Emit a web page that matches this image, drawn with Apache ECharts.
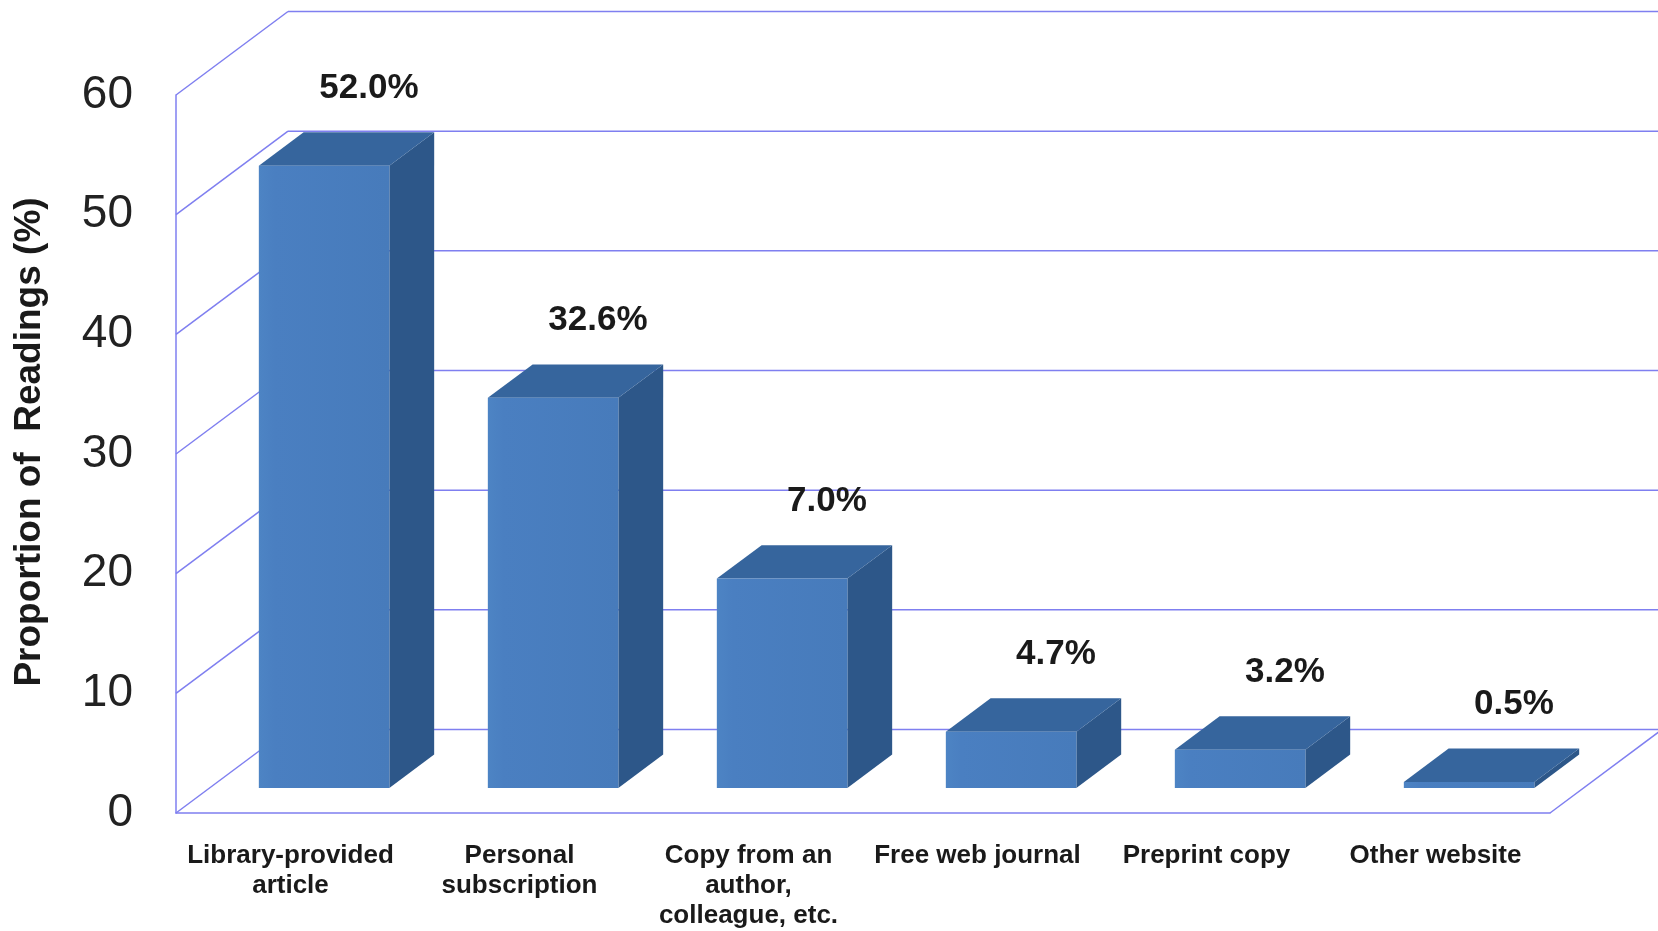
<!DOCTYPE html>
<html>
<head>
<meta charset="utf-8">
<script src="https://cdn.jsdelivr.net/npm/echarts@6/dist/echarts.min.js"></script>
<style>
html,body{margin:0;padding:0;background:#fff;}
#chart{width:1658px;height:931px;}
</style>
</head>
<body>
<div id="chart"></div>
<script>
// ---- data ----
const categories = ['Library-provided\narticle', 'Personal\nsubscription', 'Copy from an\nauthor,\ncolleague, etc.', 'Free web journal', 'Preprint copy', 'Other website'];
const values = [52.0, 32.6, 17.5, 4.7, 3.2, 0.5];
const labelTexts = ['52.0%', '32.6%', '7.0%', '4.7%', '3.2%', '0.5%'];
const yTicks = [0, 10, 20, 30, 40, 50, 60];
const yTitle = 'Proportion of  Readings (%)';

// ---- styling / 3D projection constants ----
const FONT = '"Liberation Sans", Arial, sans-serif';
const DX = 112, DY = -83.5;          // depth offset of back wall
const F0 = 0.30, F1 = 0.70;          // bar depth span (fraction)
const BAR_W = 0.57;                  // bar width fraction of band
const GRID_COLOR = '#7f7ff0';
const FRONT = '#4a7fc1', TOP = '#36659d', SIDE = '#2d5789';

const chart = echarts.init(document.getElementById('chart'), null, {renderer: 'canvas'});

const option = {
  backgroundColor: '#ffffff',
  animation: false,
  grid: {left: 176, right: 108, top: 95, bottom: 117, containLabel: false},
  xAxis: {
    type: 'category',
    data: categories,
    axisLine: {show: true, lineStyle: {color: GRID_COLOR, width: 1.5}},
    axisTick: {show: false},
    axisLabel: {
      interval: 0, margin: 28, color: '#1a1a1a',
      fontFamily: FONT, fontWeight: 'bold', fontSize: 26, lineHeight: 30
    },
    splitLine: {show: false}
  },
  yAxis: {
    type: 'value', min: 0, max: 60, interval: 10,
    name: yTitle, nameLocation: 'middle', nameGap: 128, nameRotate: 90,
    nameTextStyle: {fontFamily: FONT, fontWeight: 'bold', fontSize: 37, color: '#1a1a1a', padding: [0, 0, 0, 24]},
    axisLine: {show: true, lineStyle: {color: GRID_COLOR, width: 1.5}},
    axisTick: {show: false},
    axisLabel: {margin: 43, color: '#222', fontFamily: FONT, fontSize: 46},
    splitLine: {show: false}
  },
  series: [
    {
      type: 'custom',
      name: 'walls',
      z: 1,
      silent: true,
      clip: false,
      data: yTicks.map(v => [0, v]),
      renderItem: function (params, api) {
        const v = api.value(1);
        const c = api.coord([0, v]);
        const band = api.size([1, 0])[0];
        const xL = c[0] - band / 2;
        const xR = xL + categories.length * band;
        const y = c[1];
        const ls = {stroke: GRID_COLOR, lineWidth: 1.5};
        const children = [
          {type: 'line', shape: {x1: xL, y1: y, x2: xL + DX, y2: y + DY}, style: ls},
          {type: 'line', shape: {x1: xL + DX, y1: y + DY, x2: xR + DX + 30, y2: y + DY}, style: ls}
        ];
        if (v === 0) {
          children.push({type: 'line', shape: {x1: xR, y1: y, x2: xR + DX, y2: y + DY}, style: ls});
        }
        return {type: 'group', children: children};
      }
    },
    {
      type: 'custom',
      name: 'bars',
      z: 5,
      clip: false,
      data: values.map((v, i) => [i, v]),
      renderItem: function (params, api) {
        const idx = params.dataIndex;
        const c0 = api.coord([api.value(0), 0]);
        const c1 = api.coord([api.value(0), api.value(1)]);
        const band = api.size([1, 0])[0];
        const w = band * BAR_W;
        const ox = F0 * DX, oy = F0 * DY;
        const ddx = (F1 - F0) * DX, ddy = (F1 - F0) * DY;
        const xl = c0[0] - w / 2 + ox, xr = xl + w;
        const yb = c0[1] + oy, yt = c1[1] + oy;
        return {
          type: 'group',
          children: [
            {type: 'polygon', shape: {points: [[xr, yt], [xr + ddx, yt + ddy], [xr + ddx, yb + ddy], [xr, yb]]},
             style: {fill: SIDE}},
            {type: 'polygon', shape: {points: [[xl, yt], [xl + ddx, yt + ddy], [xr + ddx, yt + ddy], [xr, yt]]},
             style: {fill: TOP}},
            {type: 'rect', shape: {x: xl, y: yt, width: w, height: Math.max(yb - yt, 0.5)},
             style: {fill: new echarts.graphic.LinearGradient(0, 0, 1, 0, [
               {offset: 0, color: '#4d84c4'}, {offset: 0.12, color: FRONT}, {offset: 1, color: '#477bbb'}])}},
            {type: 'text', style: {
              text: labelTexts[idx], x: (xl + xr) / 2 + ddx, y: yt + ddy - 44,
              align: 'center', verticalAlign: 'middle',
              font: 'bold 35px ' + FONT, fill: '#1a1a1a'}}
          ]
        };
      }
    }
  ]
};
chart.setOption(option);
</script>
</body>
</html>
